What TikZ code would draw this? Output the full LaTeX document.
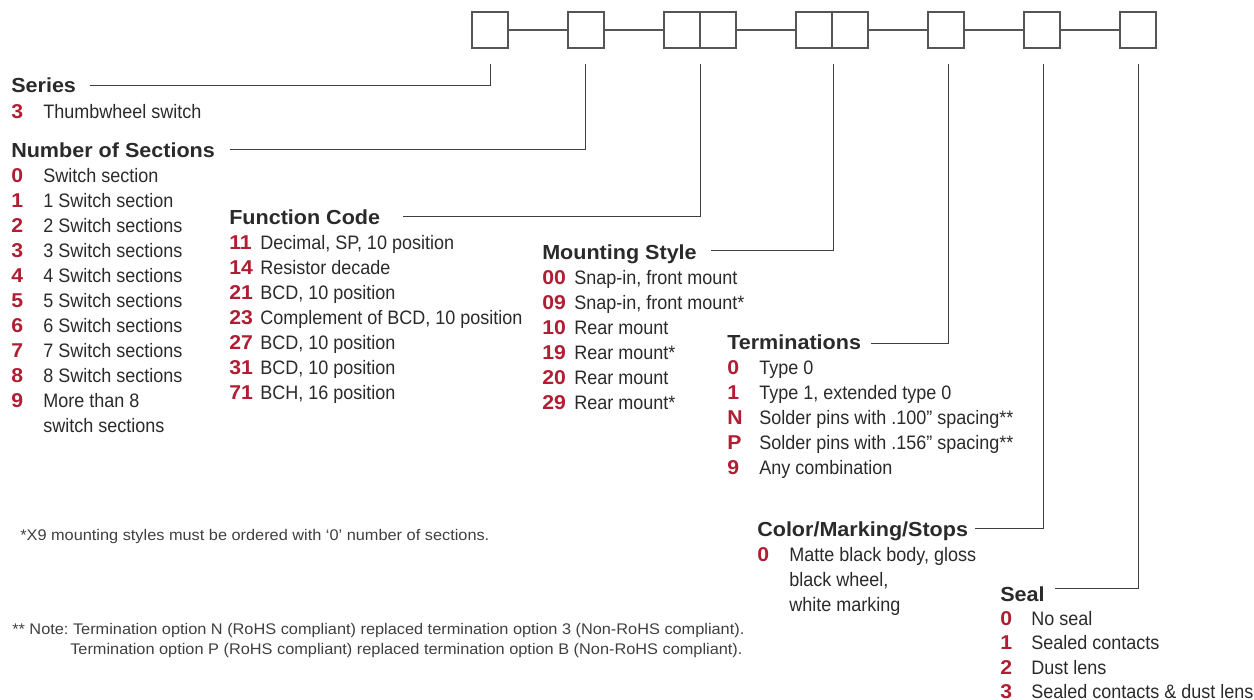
\documentclass[tikz,border=0pt]{standalone}
\usepackage{fontspec}
\setmainfont{Liberation Sans}
\newfontfamily\bodyfont[FakeStretch=0.925]{Liberation Sans}
\newfontfamily\headfont[FakeStretch=1.06]{Liberation Sans}
\definecolor{cred}{HTML}{B01E33}
\definecolor{ctext}{HTML}{2B2A2B}
\definecolor{cline}{HTML}{555555}
\tikzset{
  x=0.75pt,y=-0.75pt,
  slot/.style={draw=cline,line width=0.8pt,minimum width=27pt,minimum height=27pt,inner sep=0,outer sep=0,anchor=north west},
  link/.style={draw=cline,line width=0.8pt},
  lead/.style={draw=ctext!90,line width=0.7pt},
  head/.style={anchor=base west,inner sep=0,font=\headfont\fontsize{15.25}{15.25}\selectfont\bfseries,text=ctext},
  code/.style={anchor=base west,inner sep=0,font=\headfont\fontsize{15}{15}\selectfont\bfseries,text=cred},
  item/.style={anchor=base west,inner sep=0,font=\bodyfont\fontsize{14.6}{14.6}\selectfont,text=ctext},
  note/.style={anchor=base west,inner sep=0,font=\headfont\fontsize{11.55}{11.55}\selectfont,text=ctext!90},
}
\newcommand{\row}[5]{% name, x code, code, x text, y; text follows
  \node[code] (#1c) at (#2,#5) {#3};
  \node[item] (#1t) at (#4,#5)}
\frenchspacing
\begin{document}
\begin{tikzpicture}
\useasboundingbox (0,0) rectangle (1254,700);
% boxes
\node[slot] (b1) at (472,12) {};
\node[slot] (b2) at (568,12) {};
\node[slot] (b3a) at (664,12) {};
\node[slot] (b3b) at (700,12) {};
\node[slot] (b4a) at (796,12) {};
\node[slot] (b4b) at (832,12) {};
\node[slot] (b5) at (928,12) {};
\node[slot] (b6) at (1024,12) {};
\node[slot] (b7) at (1120,12) {};
\draw[link] (b1) -- (b2);
\draw[link] (b2) -- (b3a);
\draw[link] (b3b) -- (b4a);
\draw[link] (b4b) -- (b5);
\draw[link] (b5) -- (b6);
\draw[link] (b6) -- (b7);
% Series
\node[head] (hs) at (11,92.5) {Series};
\row{s1}{11}{3}{43}{118} {Thumbwheel switch};
% Sections
\node[head] (hn) at (11,157) {Number of Sections};
\row{n0}{11}{0}{43}{182.5} {Switch section};
\row{n1}{11}{1}{43}{207.5} {1 Switch section};
\row{n2}{11}{2}{43}{232.5} {2 Switch sections};
\row{n3}{11}{3}{43}{257.5} {3 Switch sections};
\row{n4}{11}{4}{43}{282.5} {4 Switch sections};
\row{n5}{11}{5}{43}{307.5} {5 Switch sections};
\row{n6}{11}{6}{43}{332.5} {6 Switch sections};
\row{n7}{11}{7}{43}{357.5} {7 Switch sections};
\row{n8}{11}{8}{43}{382.5} {8 Switch sections};
\row{n9}{11}{9}{43}{407.5} {More than 8};
\node[item] (n9b) at (43,432.5) {switch sections};
% Function
\node[head] (hf) at (229,224) {Function Code};
\row{f1}{229}{11}{260}{249.5} {Decimal, SP, 10 position};
\row{f2}{229}{14}{260}{274.5} {Resistor decade};
\row{f3}{229}{21}{260}{299.5} {BCD, 10 position};
\row{f4}{229}{23}{260}{324.5} {Complement of BCD, 10 position};
\row{f5}{229}{27}{260}{349.5} {BCD, 10 position};
\row{f6}{229}{31}{260}{374.5} {BCD, 10 position};
\row{f7}{229}{71}{260}{399.5} {BCH, 16 position};
% Mounting
\node[head] (hm) at (542,259) {Mounting Style};
\row{m1}{542}{00}{574}{284.5} {Snap-in, front mount};
\row{m2}{542}{09}{574}{309.5} {Snap-in, front mount*};
\row{m3}{542}{10}{574}{334.5} {Rear mount};
\row{m4}{542}{19}{574}{359.5} {Rear mount*};
\row{m5}{542}{20}{574}{384.5} {Rear mount};
\row{m6}{542}{29}{574}{409.5} {Rear mount*};
% Terminations
\node[head] (ht) at (727,349) {Terminations};
\row{t1}{727}{0}{759}{374.5} {Type 0};
\row{t2}{727}{1}{759}{399.5} {Type 1, extended type 0};
\row{t3}{727}{N}{759}{424.5} {Solder pins with .100” spacing**};
\row{t4}{727}{P}{759}{449.5} {Solder pins with .156” spacing**};
\row{t5}{727}{9}{759}{474.5} {Any combination};
% Color
\node[head] (hc) at (757,536) {Color/Marking/Stops};
\row{c1}{757}{0}{789}{561.5} {Matte black body, gloss};
\node[item] (c1b) at (789,586.5) {black wheel,};
\node[item] (c1c) at (789,611.5) {white marking};
% Seal
\node[head] (hl) at (1000,601) {Seal};
\row{l1}{1000}{0}{1031}{625} {No seal};
\row{l2}{1000}{1}{1031}{649.5} {Sealed contacts};
\row{l3}{1000}{2}{1031}{674} {Dust lens};
\row{l4}{1000}{3}{1031}{698} {Sealed contacts \& dust lens};
% notes
\node[note] (n1) at (20,540.5) {*X9 mounting styles must be ordered with ‘0’ number of sections.};
\node[note] (n2) at (12,634) {** Note: Termination option N (RoHS compliant) replaced termination option 3 (Non-RoHS compliant).};
\node[note] (n3) at (70,654) {Termination option P (RoHS compliant) replaced termination option B (Non-RoHS compliant).};
% leaders
\coordinate (e1) at (490,64);
\coordinate (e2) at (585,64);
\coordinate (e3) at (700.5,64);
\coordinate (e4) at (833,64);
\coordinate (e5) at (948,64);
\coordinate (e6) at (1043,64);
\coordinate (e7) at (1138,64);
\coordinate (a1) at (90,85.5);
\coordinate (a2) at (230,149);
\coordinate (a3) at (403,216);
\coordinate (a4) at (711,250);
\coordinate (a5) at (871,343);
\coordinate (a6) at (975,528);
\coordinate (a7) at (1055,588);
\draw[lead] (a1) -| (e1);
\draw[lead] (a2) -| (e2);
\draw[lead] (a3) -| (e3);
\draw[lead] (a4) -| (e4);
\draw[lead] (a5) -| (e5);
\draw[lead] (a6) -| (e6);
\draw[lead] (a7) -| (e7);
\end{tikzpicture}
\end{document}
